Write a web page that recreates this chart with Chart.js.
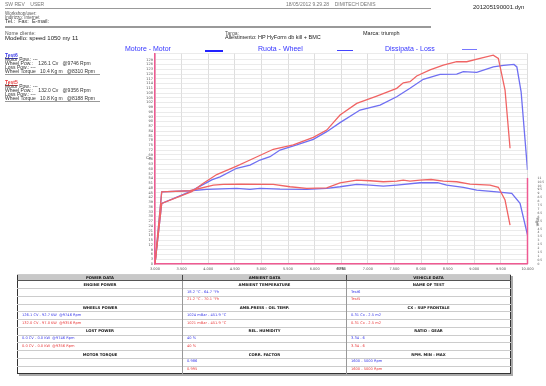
<!DOCTYPE html>
<html><head><meta charset="utf-8">
<script src="https://cdn.jsdelivr.net/npm/chart.js@4.4.0/dist/chart.umd.min.js"></script>
<style>
html,body{margin:0;padding:0;background:#fff;width:546px;height:386px;overflow:hidden;position:relative;font-family:"Liberation Sans",Arial,sans-serif;}
.t{position:absolute;white-space:nowrap;line-height:1;color:#333;}
.hl{position:absolute;height:0;}
#wrap{position:absolute;left:0;top:0;width:546px;height:280px;}
table{position:absolute;left:17px;top:274px;width:493px;border-collapse:collapse;border:1.5px solid #333;box-shadow:2px 2px 0 #aaa;font-family:"DejaVu Sans",Verdana,sans-serif;table-layout:fixed;}
td{padding:0 0 0 4px;font-size:3.6px;line-height:1;height:6.75px;border-top:1px solid #ccc;white-space:nowrap;overflow:hidden;}
td+td{border-left:1px solid #999;}
tr.h td{background:#c8c8c8;font-weight:bold;text-align:center;height:5.3px;font-size:3.8px;border-bottom:1px solid #555;color:#111;padding:0;}
tr.h td+td{border-left:1.5px solid #444;}
tr.b td{font-weight:bold;text-align:center;font-size:3.8px;color:#111;padding:0;}
.bl{color:#3b3bea;} .rd{color:#ea3b3b;}
</style></head><body>
<div id="wrap"><canvas id="c"></canvas></div>

<!-- header -->
<div class="t" style="left:5px;top:2px;font-size:5px;color:#777;">SW REV &nbsp;&nbsp; USER</div>
<div class="t" style="left:286px;top:2px;font-size:5px;color:#777;">18/05/2012 9.29.28 &nbsp;&nbsp; DIMITECH DENIS</div>
<div class="t" style="left:473px;top:4px;font-size:6px;color:#222;">201205190001.dyn</div>
<div class="hl" style="left:5px;top:8px;width:426px;border-top:1.5px solid #999;"></div>
<div class="t" style="left:5px;top:12px;font-size:4.5px;color:#555;">Workshop/user:</div>
<div class="t" style="left:5px;top:15.5px;font-size:4.5px;color:#555;">Indirizzo: Internet</div>
<div class="t" style="left:5px;top:19px;font-size:5.5px;color:#333;">Tel.: &nbsp;Fax: &nbsp;E-mail:</div>
<div class="hl" style="left:5px;top:26px;width:426px;border-top:2px solid #999;"></div>
<div class="t" style="left:5px;top:30.5px;font-size:5px;color:#555;">Nome cliente:</div>
<div class="t" style="left:5px;top:34.5px;font-size:6px;color:#222;">Modello: speed 1050 my 11</div>
<div class="t" style="left:225px;top:30.5px;font-size:5px;color:#555;">Targa:</div>
<div class="t" style="left:225px;top:34.5px;font-size:5.5px;color:#222;">Allestimento: HP HyForm db kill + BMC</div>
<div class="t" style="left:363px;top:31px;font-size:5.5px;color:#222;">Marca: triumph</div>

<!-- legend -->
<div class="t" style="left:125px;top:45px;font-size:7px;color:#3535ff;">Motore - Motor</div>
<div class="hl" style="left:205px;top:49.5px;width:18px;border-top:2px solid #2222ff;"></div>
<div class="t" style="left:258px;top:45px;font-size:7px;color:#3535ff;">Ruota - Wheel</div>
<div class="hl" style="left:337px;top:50px;width:16px;border-top:1.5px solid #4444ff;"></div>
<div class="t" style="left:385px;top:45px;font-size:7px;color:#3535ff;">Dissipata - Loss</div>
<div class="hl" style="left:462px;top:48.5px;width:15px;border-top:1px solid #7777ff;"></div>

<!-- left info -->
<div class="t" style="left:5px;top:52.5px;font-size:5px;color:#3b3bea;font-weight:bold;text-decoration:underline;">Test6</div>
<div class="t" style="left:5px;top:56.5px;font-size:5px;">Motor Pow.: ---</div>
<div class="t" style="left:5px;top:60.5px;font-size:5px;">Wheel Pow.: &nbsp;&nbsp;&nbsp;126.1 Cv &nbsp;&nbsp;@9746 Rpm</div>
<div class="t" style="left:5px;top:64.5px;font-size:5px;">Loss Pow.: ---</div>
<div class="t" style="left:5px;top:68.5px;font-size:5px;">Wheel Torque &nbsp;&nbsp;10.4 Kg m &nbsp;&nbsp;@8310 Rpm</div>
<div class="hl" style="left:5px;top:74px;width:95px;border-top:1px solid #999;"></div>
<div class="t" style="left:5px;top:80px;font-size:5px;color:#ea3b3b;font-weight:bold;text-decoration:underline;">Test5</div>
<div class="t" style="left:5px;top:84px;font-size:5px;">Motor Pow.: ---</div>
<div class="t" style="left:5px;top:88px;font-size:5px;">Wheel Pow.: &nbsp;&nbsp;&nbsp;132.0 Cv &nbsp;&nbsp;@9356 Rpm</div>
<div class="t" style="left:5px;top:92px;font-size:5px;">Loss Pow.: ---</div>
<div class="t" style="left:5px;top:96px;font-size:5px;">Wheel Torque &nbsp;&nbsp;10.8 Kg m &nbsp;&nbsp;@8188 Rpm</div>
<div class="hl" style="left:5px;top:101px;width:95px;border-top:1px solid #999;"></div>

<!-- axis titles -->
<div class="t" style="left:146px;top:156px;font-size:4px;color:#444;">Cv</div>
<div class="t" style="left:533px;top:220px;font-size:4px;color:#444;transform:rotate(90deg);">Kgm</div>
<div class="t" style="left:337px;top:268px;font-size:3.5px;color:#444;">RPM</div>

<table>
<colgroup><col style="width:165px"><col style="width:164px"><col style="width:164px"></colgroup>
<tr class="h"><td>POWER DATA</td><td>AMBIENT DATA</td><td>VEHICLE DATA</td></tr>
<tr class="b"><td>ENGINE POWER</td><td>AMBIENT TEMPERATURE</td><td>NAME OF TEST</td></tr>
<tr><td></td><td class="bl">18.2 °C - 64.7 °Fh</td><td class="bl">Test6</td></tr>
<tr><td></td><td class="rd">21.2 °C - 70.1 °Fh</td><td class="rd">Test5</td></tr>
<tr class="b"><td>WHEELS POWER</td><td>AMB.PRESS - OIL TEMP.</td><td>CX - SUP FRONTALE</td></tr>
<tr><td class="bl">126.1 CV - 92.7 KW &nbsp;@9746 Rpm</td><td class="bl">1024 mBar - 451.9 °C</td><td class="bl">0.31 Cx - 2.5 m2</td></tr>
<tr><td class="rd">132.0 CV - 97.0 KW &nbsp;@9356 Rpm</td><td class="rd">1021 mBar - 451.9 °C</td><td class="rd">0.31 Cx - 2.5 m2</td></tr>
<tr class="b"><td>LOST POWER</td><td>REL. HUMIDITY</td><td>RATIO - GEAR</td></tr>
<tr><td class="bl">0.0 CV - 0.0 KW &nbsp;@9746 Rpm</td><td class="bl">40 %</td><td class="bl">3.34 - 6</td></tr>
<tr><td class="rd">0.0 CV - 0.0 KW &nbsp;@9356 Rpm</td><td class="rd">40 %</td><td class="rd">3.34 - 6</td></tr>
<tr class="b"><td>MOTOR TORQUE</td><td>CORR. FACTOR</td><td>RPM. MIN - MAX</td></tr>
<tr><td></td><td class="bl">0.986</td><td class="bl">1600 - 5000 Rpm</td></tr>
<tr><td></td><td class="rd">0.995</td><td class="rd">1600 - 5000 Rpm</td></tr>
</table>

<script>
// ---- data ----
const test6PowerRpm = [3000,3126,3658,4066,4222,4535,4785,4973,5161,5349,5663,5975,6227,6477,6853,7229,7542,7792,8042,8356,8670,8794,9046,9358,9550,9746,9800,9880,10000];
const test6PowerCv  = [0,38.3,45.7,53.1,55.1,60.5,62.5,65.7,67.8,72.0,75.2,78.8,83.6,89.3,97.3,100.4,105.7,111.0,116.7,119.8,120.0,121.5,121.1,124.6,125.5,126.1,124.5,108.8,59.4];
const test5PowerRpm = [3000,3126,3690,3908,4160,4535,4785,5223,5599,5975,6227,6477,6791,7167,7542,7666,7792,7918,8168,8418,8670,8858,9108,9356,9452,9578,9672];
const test5PowerCv  = [0,38.3,45.7,51.0,56.5,61.9,65.7,72.5,75.2,80.0,84.6,94.1,101.5,106.1,111.0,114.5,115.2,118.8,122.6,125.7,127.8,127.8,129.9,132.0,129.9,109.9,73.1];
const test6TorqueRpm = [3000,3126,3658,3971,4535,4785,4973,5349,5851,6227,6477,6791,7041,7291,7542,7980,8310,8482,8794,9046,9422,9704,9860,10000];
const test6TorqueKgm = [0,9.23,9.36,9.54,9.67,9.54,9.67,9.58,9.54,9.67,9.87,10.18,10.09,9.96,10.09,10.38,10.4,10.09,9.80,9.45,9.23,9.03,7.75,3.70];
const test5TorqueRpm = [3000,3126,3658,4096,4284,4597,5223,5537,5851,6227,6477,6791,7041,7291,7542,7666,7792,7980,8188,8418,8670,8920,9296,9452,9578,9672];
const test5TorqueKgm = [0,9.23,9.36,10.09,10.18,10.22,10.18,9.87,9.67,9.74,10.38,10.73,10.64,10.51,10.60,10.73,10.60,10.73,10.8,10.60,10.51,10.22,10.09,9.80,8.17,4.98];

const rpmMin = 3000, rpmMax = 10000, rpmStep = 500;
const cvMax = 133, cvStep = 3;
const kgmMax = 26.9, kgmShownMax = 11, kgmStep = 0.5;

const PINK = '#ef5a92';
const BLUE = '#6f6ff2';
const RED = '#f06464';

const pts = (xs, ys) => xs.map((x, i) => ({x, y: ys[i]}));

const rightAxisLine = {
  id: 'rightAxisLine',
  afterDatasetsDraw(chart) {
    const s = chart.scales.yT, ctx = chart.ctx, a = chart.chartArea;
    ctx.save();
    ctx.strokeStyle = PINK; ctx.lineWidth = 1.5;
    ctx.beginPath();
    ctx.moveTo(a.right, s.getPixelForValue(0));
    ctx.lineTo(a.right, s.getPixelForValue(kgmShownMax));
    ctx.stroke();
    ctx.restore();
  }
};

const lineDs = (label, data, color, axis) => ({
  label, data, borderColor: color, backgroundColor: color, borderWidth: 1.3,
  pointRadius: 0, tension: 0, fill: false, yAxisID: axis
});

new Chart(document.getElementById('c'), {
  type: 'line',
  data: {
    datasets: [
      lineDs('Test5 Power', pts(test5PowerRpm, test5PowerCv), RED, 'yP'),
      lineDs('Test5 Torque', pts(test5TorqueRpm, test5TorqueKgm), RED, 'yT'),
      lineDs('Test6 Power', pts(test6PowerRpm, test6PowerCv), BLUE, 'yP'),
      lineDs('Test6 Torque', pts(test6TorqueRpm, test6TorqueKgm), BLUE, 'yT')
    ]
  },
  options: {
    responsive: true, maintainAspectRatio: false, animation: false,
    devicePixelRatio: 1,
    layout: { padding: { top: 53.5, left: 0, right: 0, bottom: 0 } },
    plugins: { legend: { display: false }, tooltip: { enabled: false } },
    scales: {
      x: {
        type: 'linear', min: rpmMin, max: rpmMax,
        afterFit: s => { s.height = 16; },
        border: { color: PINK, width: 1.5 },
        grid: { color: '#d6d6d6', lineWidth: 0.8, drawTicks: false },
        ticks: { stepSize: rpmStep, autoSkip: false, maxRotation: 0, padding: 3,
          color: '#555', font: { size: 3.5, family: 'DejaVu Sans' },
          callback: v => (v / 1000).toFixed(3) }
      },
      yP: {
        position: 'left', min: 0, max: cvMax,
        afterFit: s => { s.width = 155; },
        border: { color: PINK, width: 1.5 },
        grid: { color: '#e3e3e3', lineWidth: 0.7, drawTicks: false },
        ticks: { stepSize: cvStep, autoSkip: false, padding: 2, color: '#555',
          font: { size: 3.5, family: 'DejaVu Sans' },
          callback: v => (v % cvStep === 0 ? String(v) : '') }
      },
      yT: {
        position: 'right', min: 0, max: kgmMax,
        afterFit: s => { s.width = 18.5; },
        border: { display: false },
        grid: { display: false, drawOnChartArea: false },
        ticks: { stepSize: kgmStep, autoSkip: false, padding: 2, color: '#555',
          font: { size: 3, family: 'DejaVu Sans' },
          callback: v => (v <= kgmShownMax && Math.abs(v / kgmStep - Math.round(v / kgmStep)) < 1e-6 ? String(v) : '') }
      }
    }
  },
  plugins: [rightAxisLine]
});
</script>
</body></html>
